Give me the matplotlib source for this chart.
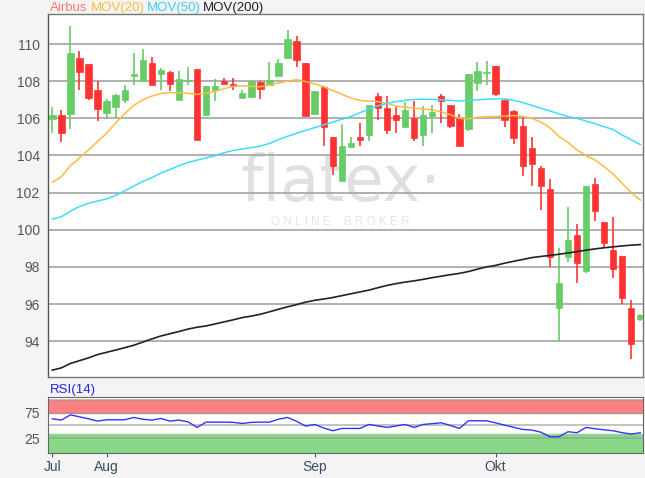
import numpy as np
import matplotlib
matplotlib.use("Agg")
import matplotlib.pyplot as plt

opens = [105.95, 106.2, 106.24, 109.25, 108.92, 107.5, 106.29, 106.6, 107.0, 108.26,
         107.99, 109.0, 108.39, 108.48, 106.97, 108.0, 108.65, 106.16, 107.5, 107.99,
         107.87, 107.08, 107.15, 107.96, 107.78, 108.3, 109.25, 110.14, 108.98, 106.24,
         107.69, 105.0, 102.6, 104.44, 105.0, 105.09, 107.22, 106.56, 106.2, 105.54,
         106.02, 105.13, 106.11, 107.22, 106.74, 106.02, 105.43, 107.9, 108.44, 108.81,
         107.01, 106.42, 105.57, 104.4, 103.32, 102.2, 95.76, 98.52, 99.72, 97.78,
         102.47, 100.4, 98.91, 98.58, 95.76, 95.17]
closes = [106.2, 105.2, 109.52, 108.5, 107.08, 106.5, 106.92, 107.28, 107.54, 108.4,
          109.16, 107.78, 108.58, 107.85, 108.13, 108.08, 104.85, 107.75, 107.76, 107.85,
          107.72, 107.37, 107.99, 107.58, 108.06, 108.98, 110.27, 109.12, 106.11, 107.49,
          105.54, 103.46, 104.5, 104.68, 104.82, 106.7, 106.56, 105.39, 105.93, 106.47,
          104.95, 106.2, 106.33, 106.92, 105.57, 104.5, 108.4, 108.53, 108.5, 107.33,
          105.93, 104.94, 103.41, 103.54, 102.37, 98.55, 97.11, 99.45, 98.19, 102.38,
          101.03, 99.27, 97.87, 96.3, 93.87, 95.41]
highs = [106.6, 106.47, 110.99, 109.64, 108.93, 108.0, 107.04, 107.3, 107.8, 109.5,
         109.73, 109.28, 108.7, 108.53, 108.53, 108.76, 108.65, 107.76, 108.12, 108.17,
         108.2, 107.5, 108.02, 108.0, 109.03, 109.19, 110.77, 110.45, 108.98, 107.49,
         107.76, 105.0, 105.7, 104.99, 105.75, 106.7, 107.37, 107.22, 106.61, 106.88,
         106.95, 106.65, 106.74, 107.33, 106.74, 106.24, 108.41, 109.01, 109.07, 108.81,
         107.01, 106.45, 106.11, 104.99, 103.45, 102.73, 99.0, 101.2, 100.3, 102.38,
         102.78, 100.4, 100.71, 98.58, 96.2, 95.45]
lows = [105.2, 104.7, 105.43, 107.55, 107.0, 105.84, 106.02, 106.0, 106.8, 107.78,
        108.0, 107.78, 107.55, 107.45, 106.97, 107.8, 104.85, 106.16, 106.95, 107.85,
        107.5, 107.08, 107.15, 107.06, 107.72, 108.26, 109.25, 108.75, 106.11, 106.24,
        104.53, 102.97, 102.6, 104.44, 104.5, 104.77, 105.93, 105.16, 105.2, 105.54,
        104.77, 104.53, 105.2, 105.75, 105.48, 104.5, 105.3, 107.45, 107.8, 107.19,
        105.53, 104.63, 102.87, 102.37, 101.07, 98.0, 94.0, 98.24, 97.14, 97.65,
        100.49, 99.09, 97.38, 95.99, 93.06, 95.1]

mov20 = [102.56, 102.86, 103.45, 103.86, 104.3, 104.75, 105.2, 105.75, 106.25, 106.7,
         107.0, 107.2, 107.34, 107.38, 107.38, 107.35, 107.29, 107.35, 107.46, 107.6,
         107.72, 107.75, 107.72, 107.7, 107.8, 107.9, 108.0, 108.08, 107.98, 107.85,
         107.7, 107.5, 107.3, 107.1, 106.96, 106.93, 106.9, 106.8, 106.66, 106.6,
         106.55, 106.5, 106.45, 106.35, 106.2, 106.0, 105.98, 106.05, 106.09, 106.1,
         106.12, 106.15, 106.1, 106.0, 105.8, 105.5, 105.03, 104.7, 104.3, 104.0,
         103.75, 103.4, 103.0, 102.5, 102.0, 101.6]
mov50 = [100.58, 100.7, 101.0, 101.25, 101.42, 101.55, 101.66, 101.85, 102.1, 102.35,
         102.6, 102.8, 103.05, 103.25, 103.45, 103.62, 103.75, 103.87, 103.98, 104.15,
         104.27, 104.35, 104.42, 104.5, 104.65, 104.85, 105.03, 105.2, 105.35, 105.5,
         105.65, 105.8, 105.95, 106.1, 106.3, 106.5, 106.68, 106.8, 106.9, 106.97,
         107.02, 107.03, 107.02, 107.0, 106.97, 106.93, 106.97, 107.0, 107.03, 107.05,
         107.05, 106.97, 106.85, 106.7, 106.55, 106.4, 106.25, 106.1, 106.0, 105.85,
         105.72, 105.55, 105.4, 105.1, 104.85, 104.58]
mov200 = [92.44, 92.56, 92.8, 92.95, 93.1, 93.28, 93.4, 93.52, 93.65, 93.78,
          93.95, 94.12, 94.28, 94.4, 94.52, 94.65, 94.75, 94.82, 94.93, 95.04,
          95.15, 95.27, 95.35, 95.45, 95.58, 95.72, 95.85, 95.97, 96.1, 96.2,
          96.27, 96.35, 96.45, 96.55, 96.65, 96.75, 96.88, 97.0, 97.1, 97.18,
          97.25, 97.33, 97.42, 97.5, 97.58, 97.65, 97.75, 97.88, 98.0, 98.08,
          98.2, 98.3, 98.4, 98.5, 98.56, 98.62, 98.68, 98.75, 98.82, 98.9,
          98.97, 99.03, 99.08, 99.13, 99.17, 99.2]
rsi = [62.8, 60.3, 70.5, 66.7, 62.8, 58.5, 60.9, 60.9, 61.0, 65.4,
       62.0, 60.3, 63.5, 58.3, 60.3, 57.0, 46.2, 56.4, 56.4, 56.4,
       56.0, 53.8, 56.0, 56.4, 56.4, 62.0, 65.4, 58.0, 48.7, 51.9,
       45.0, 39.7, 44.2, 44.2, 44.2, 51.9, 49.0, 46.2, 49.0, 51.9,
       46.2, 51.9, 53.5, 55.1, 50.0, 44.2, 59.0, 59.0, 59.0, 55.0,
       50.6, 46.5, 42.3, 41.0, 37.0, 28.2, 28.2, 37.8, 35.9, 46.2,
       43.6, 41.5, 39.7, 36.0, 33.3, 35.9]

monate = ["Jul", "Aug", "Sep", "Okt"]
monat_idx = [0, 6, 29, 49]

# --- Farben ---
GRUEN = "#66cc66"
ROT = "#ff3333"
GITTER = "#aaaaaa"

plt.rcParams["font.family"] = ["Liberation Sans", "DejaVu Sans"]

fig = plt.figure(figsize=(6.45, 4.78), dpi=100, facecolor="#f4f4f4")
ax = fig.add_axes([48 / 645, 1 - 377 / 478, 595 / 645, 363 / 478])
ax_rsi = fig.add_axes([48 / 645, 1 - 453 / 478, 595 / 645, 56 / 478], sharex=ax)

x = np.arange(len(opens))
o = np.array(opens)
c = np.array(closes)
h = np.array(highs)
l = np.array(lows)
farben = np.where(c >= o, GRUEN, ROT)

# Gitter
for y in range(94, 111, 2):
    ax.axhline(y, color=GITTER, lw=1.3, zorder=1)

# Kerzen
ax.vlines(x, l, h, colors=farben, lw=1.2, zorder=2)
hoehe = np.maximum(np.abs(c - o), 0.07)
ax.bar(x, hoehe, bottom=np.minimum(o, c), width=0.7, color=farben,
       edgecolor=farben, lw=0.5, zorder=3)

# gleitende Durchschnitte
ax.plot(x, mov20, color="#ffbb40", lw=1.1, zorder=4)
ax.plot(x, mov50, color="#40dcff", lw=1.1, zorder=4)
ax.plot(x, mov200, color="#222222", lw=1.2, zorder=4)

ax.set_xlim(-0.48, 65.3)
ax.set_ylim(92.07, 111.62)
ax.set_yticks(range(94, 111, 2))
ax.tick_params(axis="y", length=0, labelsize=10, labelcolor="#555555", pad=6)
ax.tick_params(axis="x", length=0, labelbottom=False)
ax.set_facecolor("white")
for s in ax.spines.values():
    s.set_color("#777777")
    s.set_linewidth(1)
ax.spines["left"].set_color("#555555")

# Wasserzeichen
ax.text(0.492, 0.535, "flatex·", transform=ax.transAxes, ha="center", va="center",
        fontsize=46, color="#e0e0e0", zorder=0, family="DejaVu Sans")
ax.text(0.492, 0.427, "O N L I N E    B R O K E R", transform=ax.transAxes,
        ha="center", va="center", fontsize=8.5, color="#e4e4e4", zorder=0)

# Titelzeile
titel = [("Airbus", "#ff7a6a", 50), ("MOV(20)", "#ffbb40", 91),
         ("MOV(50)", "#40ccf5", 147), ("MOV(200)", "#222222", 203)]
for txt, farbe, px in titel:
    fig.text(px / 645, 1 - 8 / 478, txt, color=farbe, fontsize=9.5,
             ha="left", va="center")

# RSI-Panel
ax_rsi.set_facecolor("white")
ax_rsi.axhspan(75, 100, color="#ff8080", zorder=1)
ax_rsi.axhspan(-5, 33, color="#88d888", zorder=1)
for y in [25, 50, 75, 100]:
    ax_rsi.axhline(y, color="#999999", lw=1.2, alpha=0.7, zorder=2)
ax_rsi.plot(x, rsi, color="#3333ff", lw=1, zorder=3)
ax_rsi.set_ylim(-3.3, 105)
ax_rsi.set_yticks([25, 75])
ax_rsi.tick_params(axis="y", length=0, labelsize=10, labelcolor="#555555", pad=6)
ax_rsi.set_xticks(monat_idx)
ax_rsi.set_xticklabels(monate)
ax_rsi.tick_params(axis="x", length=3, color="#4a5a70", labelsize=10,
                   labelcolor="#3d4d63", pad=2)
for s in ax_rsi.spines.values():
    s.set_color("#666666")
fig.text(50 / 645, 1 - 390 / 478, "RSI(14)", color="#2222ee", fontsize=9.5,
         ha="left", va="center")

fig.savefig("out.png", dpi=100, facecolor=fig.get_facecolor())
